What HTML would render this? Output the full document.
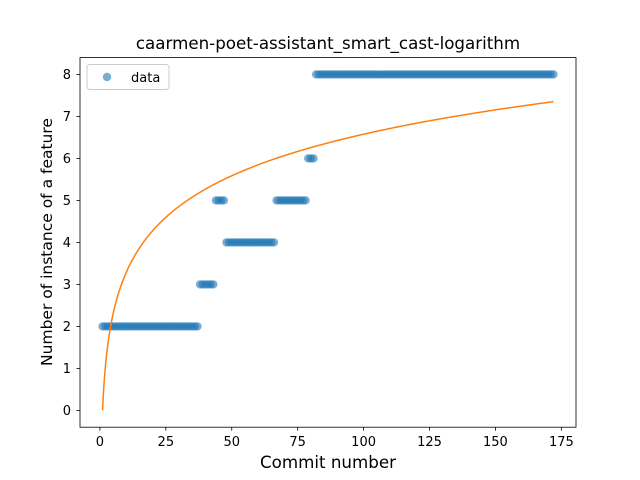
<!DOCTYPE html>
<html><head><meta charset="utf-8"><style>
body{margin:0;background:#fff;}
svg{display:block;font-family:"DejaVu Sans","Liberation Sans",sans-serif;}
</style></head><body>
<svg id="chart" width="640" height="480" xmlns="http://www.w3.org/2000/svg">
<rect width="640" height="480" fill="#fff"/>
<g id="marks"></g>
<rect x="80" y="57.6" width="496" height="369.6" fill="none" stroke="#000" stroke-width="0.8"/>
<g id="axes"></g>
<text x="328" y="49" text-anchor="middle" font-size="16.7">caarmen-poet-assistant_smart_cast-logarithm</text>
<text x="328" y="468" text-anchor="middle" font-size="16.7">Commit number</text>
<text transform="translate(52,242) rotate(-90)" text-anchor="middle" font-size="15.5">Number of instance of a feature</text>
<g>
<rect x="87" y="64.5" width="82" height="25" rx="3" fill="#fff" fill-opacity="0.8" stroke="#ccc"/>
<circle cx="107" cy="77" r="4.2" fill="#1f77b4" fill-opacity="0.6"/>
<text x="131" y="82" font-size="13">data</text>
</g>
</svg>
<script>
const values = [2,2,2,2,2,2,2,2,2,2,2,2,2,2,2,2,2,2,2,2,2,2,2,2,2,2,2,2,2,2,2,2,2,2,2,2,2,
3,3,3,3,3,3,
5,5,5,5,
4,4,4,4,4,4,4,4,4,4,4,4,4,4,4,4,4,4,4,
5,5,5,5,5,5,5,5,5,5,5,5,
6,6,6,
8,8,8,8,8,8,8,8,8,8,8,8,8,8,8,8,8,8,8,8,8,8,8,8,8,8,8,8,8,8,8,8,8,8,8,8,8,8,8,8,8,8,8,8,8,8,8,8,8,8,8,8,8,8,8,8,8,8,8,8,8,8,8,8,8,8,8,8,8,8,8,8,8,8,8,8,8,8,8,8,8,8,8,8,8,8,8,8,8,8,8];
const fitCoef = [0, 1.428];
const xTicks = [0,25,50,75,100,125,150,175];
const yTicks = [0,1,2,3,4,5,6,7,8];
const NS="http://www.w3.org/2000/svg";
const n = values.length;
const xmin = 1-0.05*(n-1), xmax = n+0.05*(n-1);
const ymin = -0.4, ymax = 8.4;
const X = v => 80 + (v-xmin)/(xmax-xmin)*496;
const Y = v => 427.2 - (v-ymin)/(ymax-ymin)*369.6;
const marks = document.getElementById('marks');
const axes = document.getElementById('axes');
values.forEach((v,i)=>{
  const c=document.createElementNS(NS,'circle');
  c.setAttribute('cx',X(i+1));c.setAttribute('cy',Y(v));c.setAttribute('r',4.2);
  c.setAttribute('fill','#1f77b4');c.setAttribute('fill-opacity','0.6');
  
  
  marks.appendChild(c);
});
let d='';
for(let x=1;x<=n;x+=0.25){d+=(d?'L':'M')+X(x).toFixed(2)+','+Y(fitCoef[0]+fitCoef[1]*Math.log(x)).toFixed(2);}
const p=document.createElementNS(NS,'path');
p.setAttribute('d',d);p.setAttribute('fill','none');p.setAttribute('stroke','#ff7f0e');p.setAttribute('stroke-width','1.5');


marks.appendChild(p);
xTicks.forEach(t=>{
  const l=document.createElementNS(NS,'line');
  l.setAttribute('x1',X(t));l.setAttribute('x2',X(t));l.setAttribute('y1',427.2);l.setAttribute('y2',430.7);l.setAttribute('stroke','#000');l.setAttribute('stroke-width','0.8');
  
  
  axes.appendChild(l);
  const tx=document.createElementNS(NS,'text');
  tx.setAttribute('x',X(t));tx.setAttribute('y',446);tx.setAttribute('text-anchor','middle');tx.setAttribute('font-size','13');
  tx.textContent=t;
  
  
  axes.appendChild(tx);
});
yTicks.forEach(t=>{
  const l=document.createElementNS(NS,'line');
  l.setAttribute('x1',76.5);l.setAttribute('x2',80);l.setAttribute('y1',Y(t));l.setAttribute('y2',Y(t));l.setAttribute('stroke','#000');l.setAttribute('stroke-width','0.8');
  
  
  axes.appendChild(l);
  const tx=document.createElementNS(NS,'text');
  tx.setAttribute('x',71);tx.setAttribute('y',Y(t)+4.5);tx.setAttribute('text-anchor','end');tx.setAttribute('font-size','13');
  tx.textContent=t;
  
  
  axes.appendChild(tx);
});
</script>
</body></html>
